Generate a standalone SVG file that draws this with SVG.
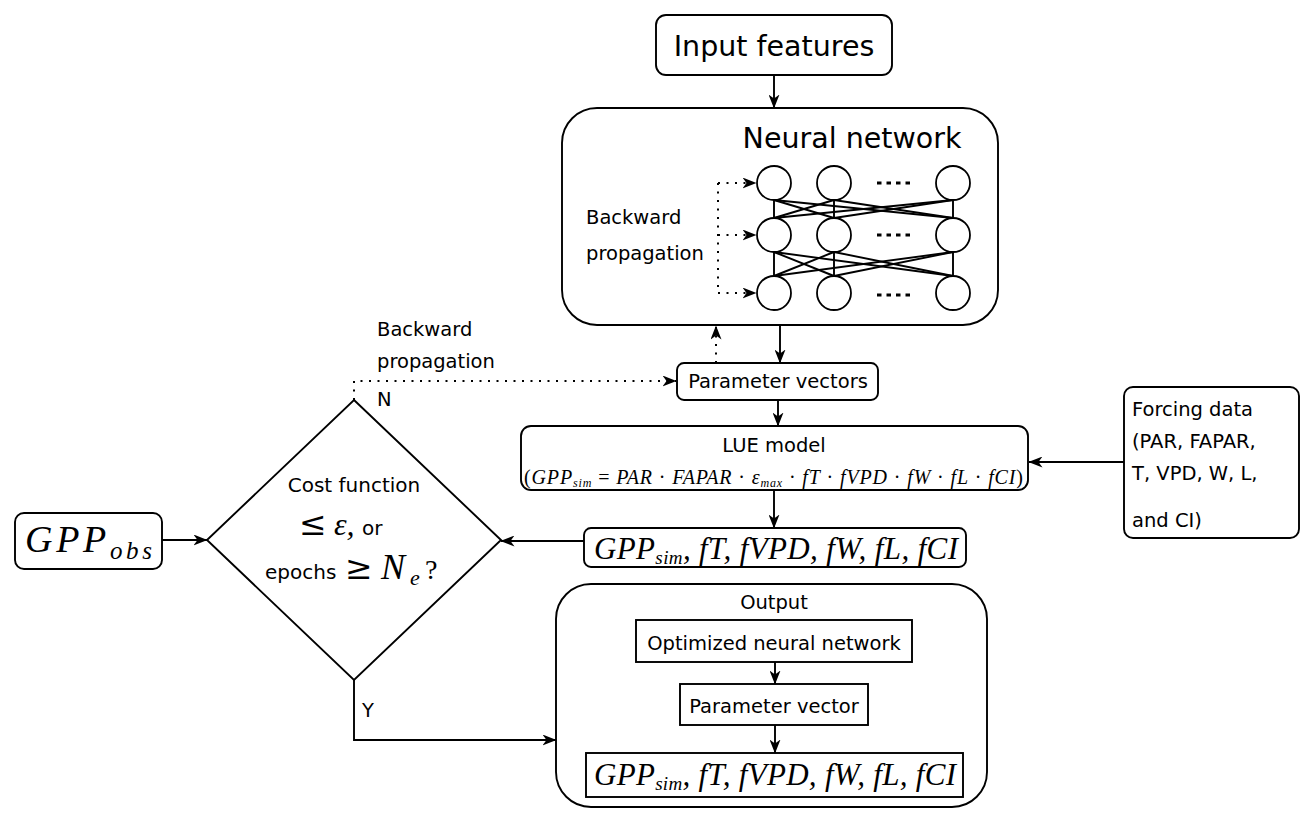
<svg xmlns="http://www.w3.org/2000/svg" width="1316" height="824" viewBox="0 0 1316 824">
<defs>
<style>
.box{fill:#fff;stroke:#000;stroke-width:1.9}
.ln{fill:none;stroke:#000;stroke-width:1.9}
.dot{fill:none;stroke:#000;stroke-width:2;stroke-dasharray:2 6.5}
.sans{font-family:"DejaVu Sans","Liberation Sans",sans-serif;fill:#000}
.math{font-family:"Liberation Serif","DejaVu Serif",serif;font-style:italic;fill:#000}
.rm{font-family:"Liberation Serif","DejaVu Serif",serif;fill:#000}
.rel{font-family:"DejaVu Serif","Liberation Serif",serif;fill:#000}
.nn{fill:#fff;stroke:#000;stroke-width:1.8}
.ed{stroke:#000;stroke-width:1.9}
</style>
<marker id="arr" viewBox="0 0 14 11" refX="13.5" refY="5.5" markerWidth="14" markerHeight="11" orient="auto" markerUnits="userSpaceOnUse">
<path d="M0,0 L14,5.5 L0,11 L4,5.5 z" fill="#000"/>
</marker>
</defs>
<rect width="1316" height="824" fill="#fff"/>

<g id="input-features">
<rect class="box" x="656" y="15" width="236" height="60" rx="10"/>
<text class="sans" x="774" y="56" font-size="28.5" text-anchor="middle">Input features</text>
</g>

<g id="neural-network">
<rect class="box" x="562" y="108" width="436" height="217" rx="35"/>
<text class="sans" x="852" y="148" font-size="28.5" text-anchor="middle">Neural network</text>
<text class="sans" x="586" y="224" font-size="19.5">Backward</text>
<text class="sans" x="586" y="260" font-size="19.5">propagation</text>
<g id="nn-edges">
<line class="ed" x1="774" y1="200" x2="774" y2="218"/>
<line class="ed" x1="774" y1="200" x2="834" y2="218"/>
<line class="ed" x1="774" y1="200" x2="953" y2="218"/>
<line class="ed" x1="834" y1="200" x2="774" y2="218"/>
<line class="ed" x1="834" y1="200" x2="834" y2="218"/>
<line class="ed" x1="834" y1="200" x2="953" y2="218"/>
<line class="ed" x1="953" y1="200" x2="774" y2="218"/>
<line class="ed" x1="953" y1="200" x2="834" y2="218"/>
<line class="ed" x1="953" y1="200" x2="953" y2="218"/>
<line class="ed" x1="774" y1="252" x2="774" y2="276"/>
<line class="ed" x1="774" y1="252" x2="834" y2="276"/>
<line class="ed" x1="774" y1="252" x2="953" y2="276"/>
<line class="ed" x1="834" y1="252" x2="774" y2="276"/>
<line class="ed" x1="834" y1="252" x2="834" y2="276"/>
<line class="ed" x1="834" y1="252" x2="953" y2="276"/>
<line class="ed" x1="953" y1="252" x2="774" y2="276"/>
<line class="ed" x1="953" y1="252" x2="834" y2="276"/>
<line class="ed" x1="953" y1="252" x2="953" y2="276"/>
</g>
<g id="nn-nodes">
<circle class="nn" cx="774" cy="183" r="17"/>
<circle class="nn" cx="834" cy="183" r="17"/>
<circle class="nn" cx="953" cy="183" r="17"/>
<circle class="nn" cx="774" cy="235" r="17"/>
<circle class="nn" cx="834" cy="235" r="17"/>
<circle class="nn" cx="953" cy="235" r="17"/>
<circle class="nn" cx="774" cy="293" r="17"/>
<circle class="nn" cx="834" cy="293" r="17"/>
<circle class="nn" cx="953" cy="293" r="17"/>
</g>
<g id="nn-ellipsis" stroke="#000" stroke-width="3" stroke-dasharray="4.5 5">
<line x1="877" y1="183" x2="910" y2="183"/>
<line x1="877" y1="235" x2="910" y2="235"/>
<line x1="877" y1="295" x2="910" y2="295"/>
</g>
<g id="nn-backprop">
<path class="dot" d="M718,183 V293"/>
<path class="dot" d="M718,183 H756" marker-end="url(#arr)"/>
<path class="dot" d="M718,235 H756" marker-end="url(#arr)"/>
<path class="dot" d="M718,293 H756" marker-end="url(#arr)"/>
</g>
</g>

<g id="parameter-vectors">
<rect class="box" x="677" y="363" width="201" height="37" rx="7"/>
<text class="sans" x="778" y="388" font-size="19.5" text-anchor="middle">Parameter vectors</text>
</g>

<g id="backprop-label">
<text class="sans" x="377" y="336" font-size="19.5">Backward</text>
<text class="sans" x="377" y="368" font-size="19.5">propagation</text>
<text class="sans" x="377" y="406" font-size="19.5">N</text>
<text class="sans" x="362" y="717" font-size="19.5">Y</text>
</g>

<g id="lue-model">
<rect class="box" x="521" y="426" width="507" height="64" rx="10"/>
<text class="sans" x="774" y="452" font-size="19.5" text-anchor="middle">LUE model</text>
<text class="math" x="524" y="484" font-size="20" textLength="499" lengthAdjust="spacing"><tspan font-style="normal">(</tspan>GPP<tspan font-size="12" dy="3">sim</tspan><tspan dy="-3" font-style="normal"> = </tspan>PAR <tspan font-style="normal">· </tspan>FAPAR<tspan font-style="normal"> · </tspan>ε<tspan font-size="12" dy="3">max</tspan><tspan dy="-3" font-style="normal"> · </tspan>fT<tspan font-style="normal"> · </tspan>fVPD<tspan font-style="normal"> · </tspan>fW<tspan font-style="normal"> · </tspan>fL<tspan font-style="normal"> · </tspan>fCI<tspan font-style="normal">)</tspan></text>
</g>

<g id="forcing-data">
<rect class="box" x="1124" y="387" width="175" height="151" rx="9"/>
<text class="sans" x="1132" y="416" font-size="19.5">Forcing data</text>
<text class="sans" x="1132" y="448" font-size="19.5">(PAR, FAPAR,</text>
<text class="sans" x="1132" y="480" font-size="19.5">T, VPD, W, L,</text>
<text class="sans" x="1132" y="527" font-size="19.5">and CI)</text>
</g>

<g id="gpp-sim">
<rect class="box" x="584" y="528" width="382" height="39" rx="7"/>
<text class="math" x="594" y="559" font-size="31" textLength="364" lengthAdjust="spacing">GPP<tspan font-size="19" dy="5">sim</tspan><tspan dy="-5">, fT, fVPD, fW, fL, fCI</tspan></text>
</g>

<g id="cost-function">
<path class="box" d="M354,400 L501,540 L354,680 L207,540 Z"/>
<text class="sans" x="354" y="492" font-size="20" text-anchor="middle">Cost function</text>
<text y="535"><tspan class="rel" x="299" font-size="33">≤</tspan><tspan class="math" x="334" font-size="32">ε,</tspan><tspan class="sans" x="362" font-size="20">or</tspan></text>
<text y="579"><tspan class="sans" x="265" font-size="20">epochs</tspan><tspan class="rel" x="345" font-size="33">≥</tspan><tspan class="math" x="381" font-size="36">N</tspan><tspan class="math" x="410" dy="6" font-size="22">e</tspan><tspan class="rm" x="425" dy="-6" font-size="28">?</tspan></text>
</g>

<g id="gpp-obs">
<rect class="box" x="15" y="513" width="147" height="56" rx="9"/>
<text class="math" x="25" y="552" font-size="38" textLength="127" lengthAdjust="spacing">GPP<tspan font-size="25" dy="7">obs</tspan></text>
</g>

<g id="output">
<rect class="box" x="556" y="584" width="431" height="223" rx="35"/>
<text class="sans" x="774" y="609" font-size="19.5" text-anchor="middle">Output</text>
<g id="optimized-nn">
<rect class="box" x="636" y="620" width="276" height="42"/>
<text class="sans" x="774" y="650" font-size="19.5" text-anchor="middle">Optimized neural network</text>
</g>
<g id="parameter-vector">
<rect class="box" x="680" y="684" width="188" height="41"/>
<text class="sans" x="774" y="713" font-size="19.5" text-anchor="middle">Parameter vector</text>
</g>
<g id="gpp-output">
<rect class="box" x="586" y="753" width="377" height="44"/>
<text class="math" x="594" y="785" font-size="31" textLength="362" lengthAdjust="spacing">GPP<tspan font-size="19" dy="5">sim</tspan><tspan dy="-5">, fT, fVPD, fW, fL, fCI</tspan></text>
</g>
</g>

<g id="connectors">
<path class="ln" d="M774,75 V108" marker-end="url(#arr)"/>
<path class="ln" d="M780,325 V363" marker-end="url(#arr)"/>
<path class="dot" d="M716,363 V326" marker-end="url(#arr)"/>
<path class="ln" d="M778,400 V426" marker-end="url(#arr)"/>
<path class="ln" d="M1124,462 H1029" marker-end="url(#arr)"/>
<path class="ln" d="M774,490 V528" marker-end="url(#arr)"/>
<path class="ln" d="M584,541 H501" marker-end="url(#arr)"/>
<path class="ln" d="M162,540 H207" marker-end="url(#arr)"/>
<path class="dot" d="M354,400 V381 H676" marker-end="url(#arr)"/>
<path class="ln" d="M354,680 V740 H556" marker-end="url(#arr)"/>
<path class="ln" d="M775,662 V684" marker-end="url(#arr)"/>
<path class="ln" d="M775,725 V753" marker-end="url(#arr)"/>
</g>
</svg>
